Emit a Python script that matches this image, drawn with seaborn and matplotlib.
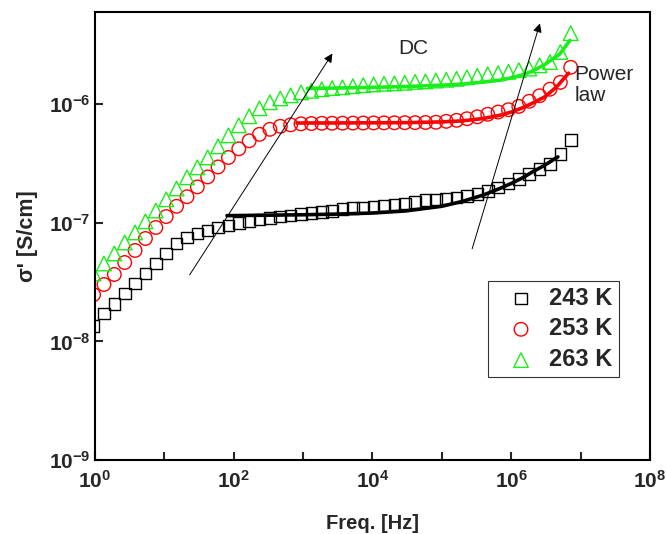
import numpy as np
import pandas as pd
import matplotlib
matplotlib.use('Agg')
import matplotlib.pyplot as plt
import seaborn as sns
from matplotlib.ticker import FixedLocator, FuncFormatter, NullLocator

# measured frequencies [Hz]
freq = [0.955, 1.348, 1.901, 2.683, 3.784, 5.34, 7.53, 10.63, 15.0, 21.2,
        29.9, 42.1, 59.4, 83.9, 118.3, 167, 235, 332, 469, 661,
        933, 1317, 1858, 2621, 3698, 5219, 7362, 10387, 14655, 20677,
        29174, 41163, 58076, 81940, 115611, 163117, 230144, 324713, 458142, 646400,
        912011, 1.287e6, 1.816e6, 2.562e6, 3.614e6, 5.10e6, 7.19e6]

# sigma' [S/cm]
sig_243 = [1.35e-8, 1.72e-8, 2.08e-8, 2.54e-8, 3.08e-8, 3.74e-8, 4.54e-8, 5.52e-8, 6.70e-8, 7.53e-8,
           8.13e-8, 8.63e-8, 9.14e-8, 9.5e-8, 9.98e-8, 1.04e-7, 1.07e-7, 1.10e-7, 1.13e-7, 1.155e-7,
           1.19e-7, 1.21e-7, 1.24e-7, 1.26e-7, 1.31e-7, 1.34e-7, 1.35e-7, 1.375e-7, 1.40e-7, 1.43e-7,
           1.46e-7, 1.50e-7, 1.55e-7, 1.57e-7, 1.60e-7, 1.64e-7, 1.68e-7, 1.76e-7, 1.86e-7, 1.99e-7,
           2.15e-7, 2.35e-7, 2.58e-7, 2.85e-7, 3.15e-7, 3.8e-7, 5.0e-7]
sig_253 = [2.48e-8, 3.02e-8, 3.67e-8, 4.63e-8, 5.85e-8, 7.38e-8, 9.14e-8, 1.13e-7, 1.38e-7, 1.66e-7,
           2.01e-7, 2.44e-7, 2.96e-7, 3.56e-7, 4.21e-7, 4.92e-7, 5.58e-7, 6.15e-7, 6.52e-7, 6.71e-7,
           6.84e-7, 6.88e-7, 6.91e-7, 6.92e-7, 6.93e-7, 6.94e-7, 6.95e-7, 6.96e-7, 6.97e-7, 6.98e-7,
           6.99e-7, 7.0e-7, 7.02e-7, 7.05e-7, 7.18e-7, 7.32e-7, 7.55e-7, 7.84e-7, 8.24e-7, 8.6e-7,
           9.0e-7, 9.6e-7, 1.06e-6, 1.18e-6, 1.34e-6, 1.53e-6, 2.05e-6]
sig_263 = [3.74e-8, 4.54e-8, 5.52e-8, 6.83e-8, 8.30e-8, 1.03e-7, 1.27e-7, 1.58e-7, 1.95e-7, 2.42e-7,
           2.94e-7, 3.56e-7, 4.42e-7, 5.47e-7, 6.65e-7, 7.92e-7, 9.25e-7, 1.04e-6, 1.12e-6, 1.19e-6,
           1.26e-6, 1.30e-6, 1.34e-6, 1.37e-6, 1.39e-6, 1.42e-6, 1.45e-6, 1.47e-6, 1.49e-6, 1.50e-6,
           1.52e-6, 1.545e-6, 1.56e-6, 1.585e-6, 1.61e-6, 1.64e-6, 1.69e-6, 1.74e-6, 1.79e-6, 1.83e-6,
           1.88e-6, 1.94e-6, 2.0e-6, 2.13e-6, 2.27e-6, 2.76e-6, 3.98e-6]

# fitted curves (DC + power law)
fit_f_243 = [80, 300, 1e3, 3e3, 1e4, 3e4, 1e5, 2e5, 4e5, 7e5, 1e6, 1.5e6, 2e6, 3e6, 4.7e6]
fit_s_243 = [1.15e-7, 1.16e-7, 1.17e-7, 1.185e-7, 1.21e-7, 1.26e-7, 1.38e-7, 1.52e-7, 1.72e-7, 1.96e-7,
             2.15e-7, 2.42e-7, 2.68e-7, 3.05e-7, 3.6e-7]
fit_f_253 = [815, 3e3, 1e4, 3e4, 1e5, 2e5, 4e5, 7e5, 1e6, 1.5e6, 2e6, 3e6, 4.5e6, 6.7e6]
fit_s_253 = [6.95e-7, 6.96e-7, 6.98e-7, 7.0e-7, 7.1e-7, 7.25e-7, 7.6e-7, 8.1e-7, 8.6e-7, 9.4e-7,
             1.02e-6, 1.15e-6, 1.4e-6, 1.83e-6]
fit_f_263 = [1150, 3e3, 1e4, 3e4, 1e5, 2e5, 4e5, 7e5, 1e6, 1.5e6, 2e6, 3e6, 5e6, 7e6]
fit_s_263 = [1.36e-6, 1.37e-6, 1.39e-6, 1.41e-6, 1.45e-6, 1.48e-6, 1.54e-6, 1.6e-6, 1.67e-6, 1.78e-6,
             1.9e-6, 2.15e-6, 2.65e-6, 3.45e-6]

labels = ['243 K', '253 K', '263 K']

sns.set_style('ticks')
plt.rcParams['font.family'] = ['Liberation Sans', 'DejaVu Sans']
plt.rcParams['mathtext.fontset'] = 'custom'
plt.rcParams['mathtext.rm'] = 'Liberation Sans:bold'
plt.rcParams['mathtext.it'] = 'Liberation Sans:bold'
plt.rcParams['mathtext.bf'] = 'Liberation Sans:bold'

fig = plt.figure(figsize=(6.66, 5.34), dpi=100)
ax = fig.add_axes([0.1426, 0.1386, 0.8334, 0.8389])

green = '#1aee1a'
styles = [('s', 'black', 70), ('o', 'red', 95), ('^', green, 110)]
for vals, lab, (m, c, s) in zip([sig_243, sig_253, sig_263], labels, styles):
    sns.scatterplot(x=freq, y=vals, marker=m, s=s, facecolor='none', edgecolor=c,
                    linewidth=1.0, ax=ax, label=lab, zorder=2)

for ff, ss, c in [(fit_f_243, fit_s_243, 'black'), (fit_f_253, fit_s_253, 'red'),
                  (fit_f_263, fit_s_263, green)]:
    sns.lineplot(x=ff, y=ss, color=c, lw=2.6, ax=ax, zorder=3, legend=False)

ax.set_xscale('log')
ax.set_yscale('log')
ax.set_xlim(1, 1e8)
ax.set_ylim(1e-9, 6e-6)

ax.xaxis.set_major_locator(FixedLocator([10.0 ** i for i in range(9)]))
ax.xaxis.set_major_formatter(FuncFormatter(
    lambda v, p: '$10^{%d}$' % round(np.log10(v)) if round(np.log10(v)) % 2 == 0 else ''))
ax.yaxis.set_major_locator(FixedLocator([1e-9, 1e-8, 1e-7, 1e-6]))
ax.yaxis.set_major_formatter(FuncFormatter(lambda v, p: '$10^{%d}$' % round(np.log10(v))))
ax.xaxis.set_minor_locator(NullLocator())
ax.yaxis.set_minor_locator(NullLocator())
ax.tick_params(direction='in', length=6, width=1.5, labelsize=15, top=False, right=False)
ax.tick_params(axis='x', pad=7)
ax.tick_params(axis='y', pad=3)
for sp in ax.spines.values():
    sp.set_linewidth(1.5)
    sp.set_color('black')

ax.set_xlabel('Freq. [Hz]', fontsize=14.5, fontweight='bold', labelpad=16)
ax.set_ylabel("σ' [S/cm]", fontsize=15.5, fontweight='bold', labelpad=8)

# arrows marking the DC and power-law regions
arrow = dict(arrowstyle='-|>', color='black', lw=0.7, mutation_scale=13, shrinkA=0, shrinkB=0)
ax.annotate('', xy=(2643, 2.68e-6), xytext=(23.2, 3.65e-8), arrowprops=arrow)
ax.annotate('', xy=(2.59e6, 4.81e-6), xytext=(2.73e5, 6.04e-8), arrowprops=arrow)
ax.text(3.87e4, 2.97e-6, 'DC', fontsize=15, ha='center', va='center')
ax.text(8.2e6, 1.45e-6, 'Power\nlaw', fontsize=15, ha='left', va='center', linespacing=1.15)

leg = ax.legend(loc='upper left', bbox_to_anchor=(0.708, 0.40), borderaxespad=0,
                prop={'weight': 'bold', 'size': 17}, frameon=True, fancybox=False,
                handletextpad=0.05, borderpad=0.25, labelspacing=0.33, handlelength=2.3)
leg.get_frame().set_edgecolor('black')
leg.get_frame().set_linewidth(0.8)

fig.savefig('out.png', dpi=100)
